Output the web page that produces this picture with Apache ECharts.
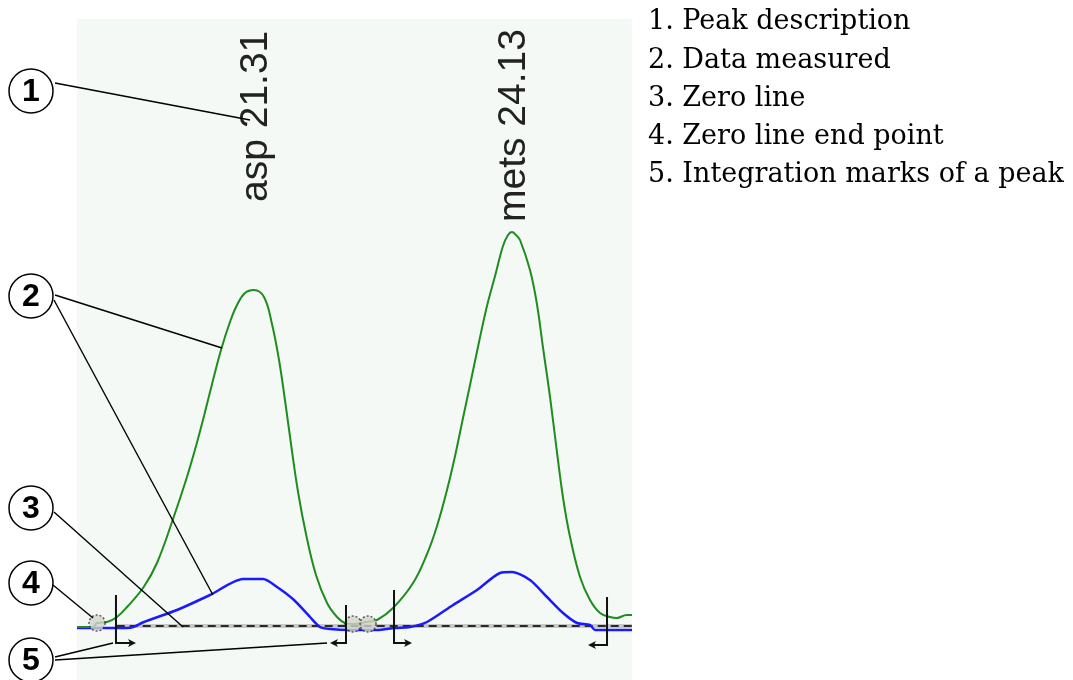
<!DOCTYPE html>
<html><head><meta charset="utf-8">
<script src="https://cdn.jsdelivr.net/npm/echarts@6/dist/echarts.min.js"></script>
<style>html,body{margin:0;padding:0;background:#fff}#c{width:1073px;height:680px}</style>
</head><body><div id="c"></div>
<script>
// ---- data (time in min, signal in arbitrary units) ----
const greenTime = [19.376,19.551,19.595,19.704,19.813,19.923,20.105,20.250,20.433,20.578,20.677,20.764,20.852,20.950,21.048,21.125,21.212,21.310,21.420,21.507,21.584,21.649,21.715,21.792,21.879,21.988,22.109,22.218,22.305,22.393,22.469,22.542,22.655,22.830,23.049,23.202,23.311,23.420,23.508,23.595,23.683,23.770,23.857,23.945,24.032,24.087,24.130,24.174,24.218,24.327,24.401,24.473,24.546,24.619,24.692,24.765,24.874,24.983,25.093,25.202,25.275,25.384,25.442];
const greenSignal = [-0.1,-0.1,0.3,0.4,0.9,1.9,3.9,6.3,10.9,14.9,18.0,21.0,24.2,27.6,30.4,32.1,33.3,33.6,32.9,30.2,26.6,22.6,18.2,13.4,9.2,5.1,2.3,0.9,0.3,0.2,0.3,0.4,0.6,1.8,4.3,7.2,10.0,13.6,17.0,20.8,24.6,28.4,32.0,35.0,38.0,39.1,39.4,39.1,38.6,35.6,32.3,27.6,22.9,17.6,12.6,8.9,4.9,2.6,1.3,0.9,0.8,1.1,1.1];
const blueTime = [19.376,19.923,19.990,20.108,20.469,20.830,21.190,21.410,21.562,21.748,21.923,22.032,22.141,22.360,22.655,22.850,23.016,23.202,23.486,23.748,23.999,24.130,24.327,24.513,24.688,24.841,24.983,25.038,25.442];
const blueSignal = [-0.2,-0.2,-0.1,0.4,1.6,3.1,4.7,4.7,3.9,2.6,0.9,-0.1,-0.3,-0.4,-0.4,-0.2,-0.1,0.4,2.1,3.6,5.3,5.4,4.6,2.9,1.3,0.3,0.1,-0.4,-0.4];
const peakNames = ['asp 21.31', 'mets 24.13'];
const peakTimes = [21.31, 24.13];
const peakLabelBase = [42.4, 40.4];
const zeroLineTimes = [19.81, 25.442];
const endPointTimes = [19.595, 22.393, 22.557];
const endPointSignals = [0.3, 0.2, 0.2];
const markTimes = [19.802, 22.316, 22.841, 25.169];
const markTops = [3.1, 2.1, 3.6, 2.9];
const markBottoms = [-1.7, -1.7, -1.7, -1.9];
const markArrowEnds = [20.021, 22.141, 23.038, 24.961];
const legendItems = ['1. Peak description', '2. Data measured', '3. Zero line', '4. Zero line end point', '5. Integration marks of a peak'];
const calloutNumbers = ['1', '2', '3', '4', '5'];
// callout targets (data coords) per callout number
const calloutTargets = [
  [[21.267, 50.6]],
  [[20.961, 27.8], [20.862, 3.1]],
  [[20.535, -0.1]],
  [[19.551, 0.8]],
  [[19.770, -1.7], [22.109, -1.7]]
];
const xMin = 19.376, xMax = 25.442, yMin = -5.4, yMax = 60.7;

// ---- layout ----
const calloutCY = [91, 296, 508, 583, 660];
const calloutStarts = [[[55, 83]], [[55, 295], [54, 300]], [[54, 512]], [[53, 585]], [[55, 657], [55, 660]]];
const legendY = [22, 61, 99, 137, 175];

const chart = echarts.init(document.getElementById('c'), null, {renderer: 'canvas'});
const zip = (a, b) => a.map((v, i) => [v, b[i]]);
function zoneData() { return zeroLineTimes.map(t => [t, 0]); }

chart.setOption({
  animation: false,
  backgroundColor: '#ffffff',
  grid: {left: 77, right: 441, top: 19, bottom: 0, show: true, backgroundColor: '#f4f9f5', borderWidth: 0},
  xAxis: {type: 'value', min: xMin, max: xMax, show: false},
  yAxis: {type: 'value', min: yMin, max: yMax, show: false},
  series: [
    {type: 'line', data: zoneData(), symbol: 'none', lineStyle: {color: '#c9c9c4', width: 4}, z: 1, silent: true},
    {type: 'line', data: zoneData(), symbol: 'none', lineStyle: {color: '#2a2a2a', width: 2, type: [8, 5]}, z: 2, silent: true},
    {type: 'line', data: zip(blueTime, blueSignal), symbol: 'none', smooth: 0.25, lineStyle: {color: '#1a1aff', width: 2.5}, z: 3},
    {type: 'line', data: zip(greenTime, greenSignal), symbol: 'none', smooth: 0.4, lineStyle: {color: '#1e8c1e', width: 2}, z: 4},
    {type: 'scatter', data: zip(endPointTimes, endPointSignals), symbol: 'circle', symbolSize: 16,
      itemStyle: {color: '#d2d3cb', borderColor: '#333', borderWidth: 1.5, borderType: [2, 2]}, z: 5},
    {type: 'custom', z: 6, data: markTimes.map((t, i) => [t, markTops[i], markBottoms[i], markArrowEnds[i]]),
      encode: {x: [0, 3], y: [1, 2]},
      renderItem: function (params, api) {
        const top = api.coord([api.value(0), api.value(1)]);
        const bot = api.coord([api.value(0), api.value(2)]);
        const end = api.coord([api.value(3), api.value(2)]);
        const dir = end[0] > bot[0] ? 1 : -1;
        const ah = 8, aw = 4;
        return {type: 'group', children: [
          {type: 'polyline', shape: {points: [top, bot, [end[0] - dir * 4, end[1]]]}, style: {stroke: '#111', lineWidth: 2, fill: null}},
          {type: 'polygon', shape: {points: [[end[0], end[1]], [end[0] - dir * ah, end[1] - aw], [end[0] - dir * ah + dir * 2, end[1]], [end[0] - dir * ah, end[1] + aw]]}, style: {fill: '#111'}}
        ]};
      }
    },
    {type: 'custom', z: 7, data: peakTimes.map((t, i) => [t, peakLabelBase[i], i]),
      renderItem: function (params, api) {
        const p = api.coord([api.value(0), api.value(1)]);
        return {type: 'text', x: p[0] + 2, y: p[1], rotation: Math.PI / 2,
          style: {text: peakNames[api.value(2)], x: 0, y: 0, align: 'left', verticalAlign: 'middle',
            font: '39px "Liberation Sans", Arial, sans-serif', fill: '#222'}};
      }
    }
  ]
});

// ---- annotations (callouts and legend) ----
const g = [];
calloutNumbers.forEach((n, i) => {
  const cy = calloutCY[i];
  g.push({type: 'circle', shape: {cx: 31, cy: cy, r: 22}, style: {fill: '#fff', stroke: '#000', lineWidth: 1.5}, z: 10});
  g.push({type: 'text', x: 31, y: cy + 1, style: {text: n, align: 'center', verticalAlign: 'middle',
    font: 'bold 32px "Liberation Sans", Arial, sans-serif', fill: '#000'}, z: 11});
  calloutTargets[i].forEach((tg, j) => {
    const p = chart.convertToPixel({gridIndex: 0}, tg);
    const s = calloutStarts[i][j];
    g.push({type: 'line', shape: {x1: s[0], y1: s[1], x2: p[0], y2: p[1]}, style: {stroke: '#000', lineWidth: 1.4}, z: 9});
  });
});
legendItems.forEach((t, i) => {
  g.push({type: 'text', x: 648, y: legendY[i], style: {text: t, align: 'left', verticalAlign: 'middle',
    font: '27px "DejaVu Serif", serif', fill: '#000'}, z: 10});
});
chart.setOption({graphic: g});
</script>
</body></html>
